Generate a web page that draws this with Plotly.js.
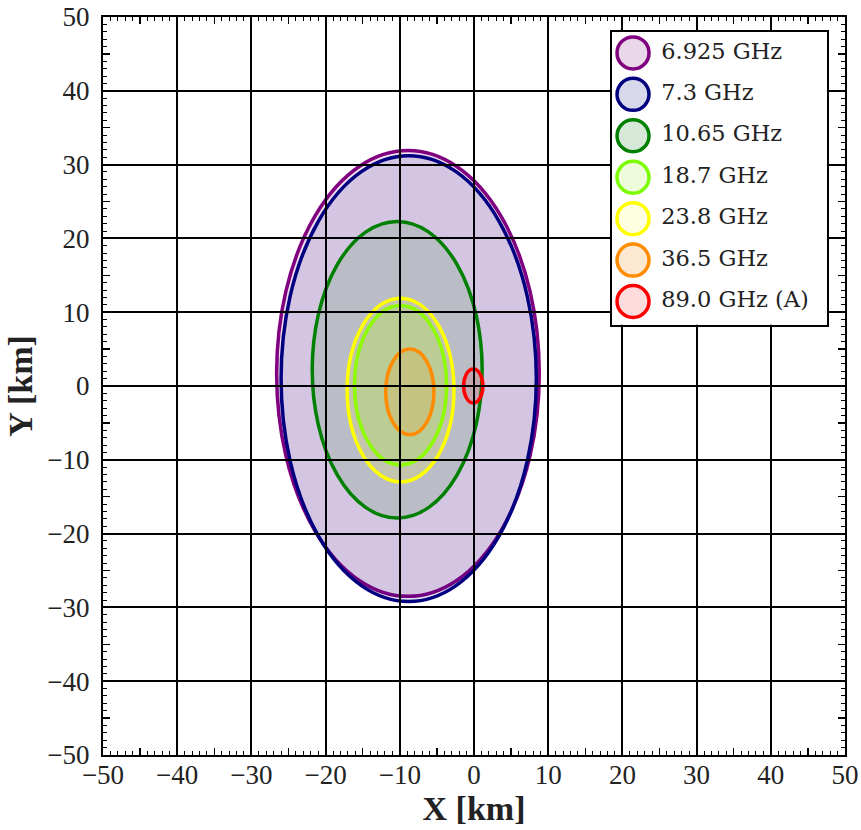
<!DOCTYPE html>
<html><head><meta charset="utf-8">
<script src="https://cdn.plot.ly/plotly-3.0.1.min.js"></script>
<style>body{margin:0;background:#fff}#chart{width:861px;height:830px}</style>
</head><body><div id="chart"></div>
<script>
// Footprint ellipses (km): bounding extents
const names = ['6.925 GHz','7.3 GHz','10.65 GHz','18.7 GHz','23.8 GHz','36.5 GHz','89.0 GHz (A)'];
const xMin = [-26.6, -26.0, -21.8, -16.1, -17.1, -11.9, -1.4];
const xMax = [  8.8,   8.4,   1.1,  -3.7,  -2.7,  -5.4,  1.2];
const yMin = [-28.5, -29.2, -17.9, -10.7, -13.0,  -6.6, -2.3];
const yMax = [ 31.9,  31.2,  22.3,  10.9,  11.9,   5.0,  2.3];
const colors = ['#800080','#000080','#008000','#7cfc00','#ffff00','#ff8c00','#ff0000'];
const fills  = ['rgba(128,0,128,0.13)','rgba(0,0,128,0.11)','rgba(0,128,0,0.12)','rgba(124,252,0,0.13)','rgba(255,255,0,0.13)','rgba(255,140,0,0.13)','rgba(255,0,0,0.13)'];
const legendFills = ['#ead8ea','#d8d8ec','#d6e8d8','#eefcdc','#fefee0','#fde8d2','#fcdcdc'];
const xTicks = [-50,-40,-30,-20,-10,0,10,20,30,40,50];
const yTicks = [-50,-40,-30,-20,-10,0,10,20,30,40,50];

const shapes = names.map((n,i)=>({
  type:'circle', xref:'x', yref:'y', layer:'below',
  x0:xMin[i], x1:xMax[i], y0:yMin[i], y1:yMax[i],
  line:{color:colors[i], width:3.5}, fillcolor:fills[i]
}));
shapes.unshift({type:'rect', xref:'x3 domain', yref:'y3 domain', x0:0, x1:1, y0:0, y1:1,
  layer:'below', fillcolor:'#ffffff', line:{width:0}});

const traces = [
  {type:'scatter', x:[], y:[], xaxis:'x', yaxis:'y', showlegend:false, hoverinfo:'skip'},
  {type:'scatter', x:[], y:[], xaxis:'x2', yaxis:'y2', showlegend:false, hoverinfo:'skip'},
  {type:'scatter', mode:'markers+text', xaxis:'x3', yaxis:'y3', showlegend:false,
   x:names.map(()=>0), y:names.map((n,i)=>i), text:names.map(n=>' '+n),
   textposition:'middle right',
   textfont:{family:'DejaVu Serif', size:22.5, color:'#222'},
   marker:{size:32, color:legendFills, line:{color:colors, width:3.5}}, cliponaxis:false}
];

const axisFont = {family:'Liberation Serif', size:27, color:'#222'};
const titleFont = {family:'Liberation Serif', size:34, color:'#222', weight:'bold'};

const layout = {
  width:861, height:830,
  margin:{l:103, r:16, t:17, b:75, autoexpand:false},
  paper_bgcolor:'#fff', plot_bgcolor:'#fff',
  showlegend:false,
  shapes:shapes,
  xaxis:{range:[-50,50], tickmode:'array', tickvals:xTicks, ticks:'inside', ticklen:8, tickwidth:2, tickcolor:'#000',
    showgrid:true, gridcolor:'#000', gridwidth:2, zeroline:false,
    showline:true, linecolor:'#000', linewidth:2, mirror:'ticks',
    minor:{dtick:5, tick0:0, ticks:'inside', ticklen:7, tickwidth:1.5, tickcolor:'#000', showgrid:false},
    tickfont:axisFont, ticklabelstandoff:-5, ticklabeloverflow:'allow',
    title:{text:'X [km]', font:titleFont, standoff:2}},
  yaxis:{range:[-50,50], tickmode:'array', tickvals:yTicks, ticks:'inside', ticklen:8, tickwidth:2, tickcolor:'#000',
    showgrid:true, gridcolor:'#000', gridwidth:2, zeroline:false,
    showline:true, linecolor:'#000', linewidth:2, mirror:'ticks',
    minor:{dtick:5, tick0:0, ticks:'inside', ticklen:7, tickwidth:1.5, tickcolor:'#000', showgrid:false},
    tickfont:axisFont, ticklabelstandoff:6, ticklabeloverflow:'allow',
    title:{text:'Y [km]', font:titleFont, standoff:4}},
  xaxis2:{overlaying:'x', anchor:'y2', range:[-50,50], tickmode:'linear', tick0:0, dtick:1,
    ticks:'inside', ticklen:4, tickwidth:1, tickcolor:'#000', showticklabels:false,
    showgrid:false, zeroline:false, showline:false, mirror:'ticks'},
  yaxis2:{overlaying:'y', anchor:'x2', range:[-50,50], tickmode:'linear', tick0:0, dtick:1,
    ticks:'inside', ticklen:4, tickwidth:1, tickcolor:'#000', showticklabels:false,
    showgrid:false, zeroline:false, showline:false, mirror:'ticks'},
  xaxis3:{domain:[0.686,0.976], anchor:'y3', range:[-1,9.24], showgrid:false, zeroline:false,
    showticklabels:false, ticks:'', showline:true, linecolor:'#000', linewidth:2, mirror:true, fixedrange:true},
  yaxis3:{domain:[0.583,0.98], anchor:'x3', range:[6.56,-0.51], showgrid:false, zeroline:false,
    showticklabels:false, ticks:'', showline:true, linecolor:'#000', linewidth:2, mirror:true, fixedrange:true}
};

Plotly.newPlot('chart', traces, layout, {staticPlot:true});
</script></body></html>
